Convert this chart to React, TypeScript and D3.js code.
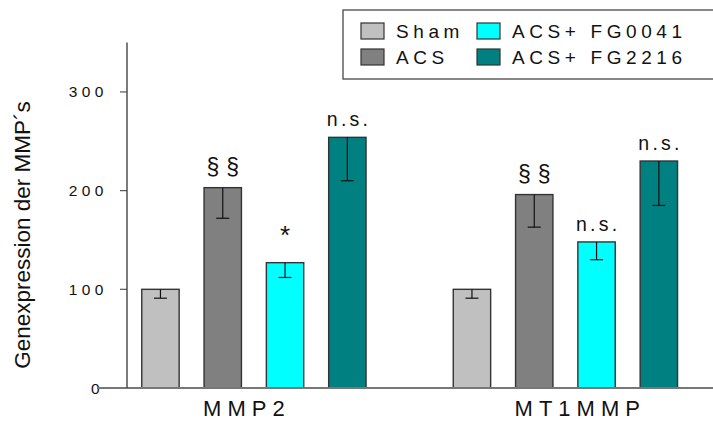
import React from "react";
import * as d3 from "d3";

// Gene expression of MMPs per treatment group
const groups = ["MMP2", "MT1MMP"];
const series = ["Sham", "ACS", "ACS+ FG0041", "ACS+ FG2216"];
const colors = ["#c0c0c0", "#808080", "#00ffff", "#008080"];
const mmp2Means = [100, 203, 127, 254];
const mmp2Errors = [9, 31, 15, 44];
const mt1mmpMeans = [100, 196, 148, 230];
const mt1mmpErrors = [9, 33, 18, 45];
const mmp2Marks = ["", "§§", "*", "n.s."];
const mt1mmpMarks = ["", "§§", "n.s.", "n.s."];
const yTicks = [0, 100, 200, 300];

const W = 713;
const H = 423;
const FONT = "'Liberation Sans', Arial, Helvetica, sans-serif";

// font settings for the significance marks above the bars
const markStyle: Record<string, { size: number; ls: number; gap: number }> = {
  "§§": { size: 23, ls: 7, gap: 12.5 },
  "*": { size: 26, ls: 0, gap: 19 },
  "n.s.": { size: 19.5, ls: 3.2, gap: 11 },
};

export default function App() {
  const axisX = 127;
  const baseY = 388;

  const y = d3.scaleLinear().domain([0, 350]).range([baseY, 42.6]);
  const x0 = d3
    .scaleBand<string>()
    .domain(groups)
    .range([129.3, 690])
    .paddingInner(0.2)
    .paddingOuter(0);
  const x1 = d3
    .scaleBand<string>()
    .domain(series)
    .range([0, x0.bandwidth()])
    .paddingInner(0.4)
    .paddingOuter(0.2);

  const data = groups.map((g, gi) => ({
    group: g,
    means: gi === 0 ? mmp2Means : mt1mmpMeans,
    errors: gi === 0 ? mmp2Errors : mt1mmpErrors,
    marks: gi === 0 ? mmp2Marks : mt1mmpMarks,
  }));

  const capHalf = 6.5;

  return (
    <svg
      width={W}
      height={H}
      style={{ position: "absolute", left: 0, top: 0, background: "#fff" }}
      fontFamily={FONT}
    >
      {/* y axis title */}
      <text
        transform={`translate(30, 235) rotate(-90)`}
        textAnchor="middle"
        fontSize={22.5}
        fill="#111"
      >
        Genexpression der MMP´s
      </text>

      {/* y ticks */}
      {yTicks.map((t) => (
        <g key={t}>
          {t !== 0 && (
            <line x1={axisX - 7} x2={axisX} y1={y(t)} y2={y(t)} stroke="#555" strokeWidth={1.2} />
          )}
          <text
            x={t === 0 ? 104 : 108}
            y={y(t) + 5.5}
            textAnchor="end"
            fontSize={15.5}
            letterSpacing={4.5}
            fill="#111"
          >
            {t}
          </text>
        </g>
      ))}

      {/* bars */}
      {data.map((d) => (
        <g key={d.group} transform={`translate(${x0(d.group)},0)`}>
          {series.map((s, i) => {
            const bx = x1(s)!;
            const bw = x1.bandwidth();
            const cx = bx + bw / 2;
            const top = y(d.means[i]);
            const low = y(d.means[i] - d.errors[i]);
            const mark = d.marks[i];
            const ms = markStyle[mark];
            return (
              <g key={s}>
                <rect
                  x={bx}
                  y={top}
                  width={bw}
                  height={baseY - top}
                  fill={colors[i]}
                  stroke="#333"
                  strokeWidth={1.4}
                />
                <line x1={cx} x2={cx} y1={top} y2={low} stroke="#111" strokeWidth={1.2} />
                <line x1={cx - capHalf} x2={cx + capHalf} y1={low} y2={low} stroke="#111" strokeWidth={1.2} />
                {mark && (
                  <text
                    x={cx + ms.ls / 2}
                    y={top - ms.gap}
                    textAnchor="middle"
                    fontSize={ms.size}
                    letterSpacing={ms.ls}
                    fill="#111"
                  >
                    {mark}
                  </text>
                )}
              </g>
            );
          })}
          {/* category label */}
          <text
            x={x1(series[1])! - 1}
            y={416}
            textAnchor="start"
            fontSize={22}
            letterSpacing={6}
            fill="#111"
          >
            {d.group}
          </text>
        </g>
      ))}

      {/* axes */}
      <line x1={97} x2={W} y1={baseY} y2={baseY} stroke="#777" strokeWidth={1.8} />
      <line x1={axisX} x2={axisX} y1={y(350)} y2={baseY} stroke="#444" strokeWidth={1.4} />

      {/* legend */}
      <g>
        <rect x={343} y={10} width={W} height={69} fill="#fff" stroke="#555" strokeWidth={1.4} />
        {series.map((s, i) => {
          const colIdx = i < 2 ? 0 : 1;
          const rowIdx = i % 2;
          const sx = colIdx === 0 ? 361 : 477;
          const sy = rowIdx === 0 ? 23 : 49;
          return (
            <g key={s}>
              <rect x={sx} y={sy} width={23} height={16} fill={colors[i]} stroke="#333" strokeWidth={1.2} />
              <text x={sx + 35} y={sy + 15} fontSize={19} letterSpacing={4.6} fill="#111">
                {s}
              </text>
            </g>
          );
        })}
      </g>
    </svg>
  );
}
